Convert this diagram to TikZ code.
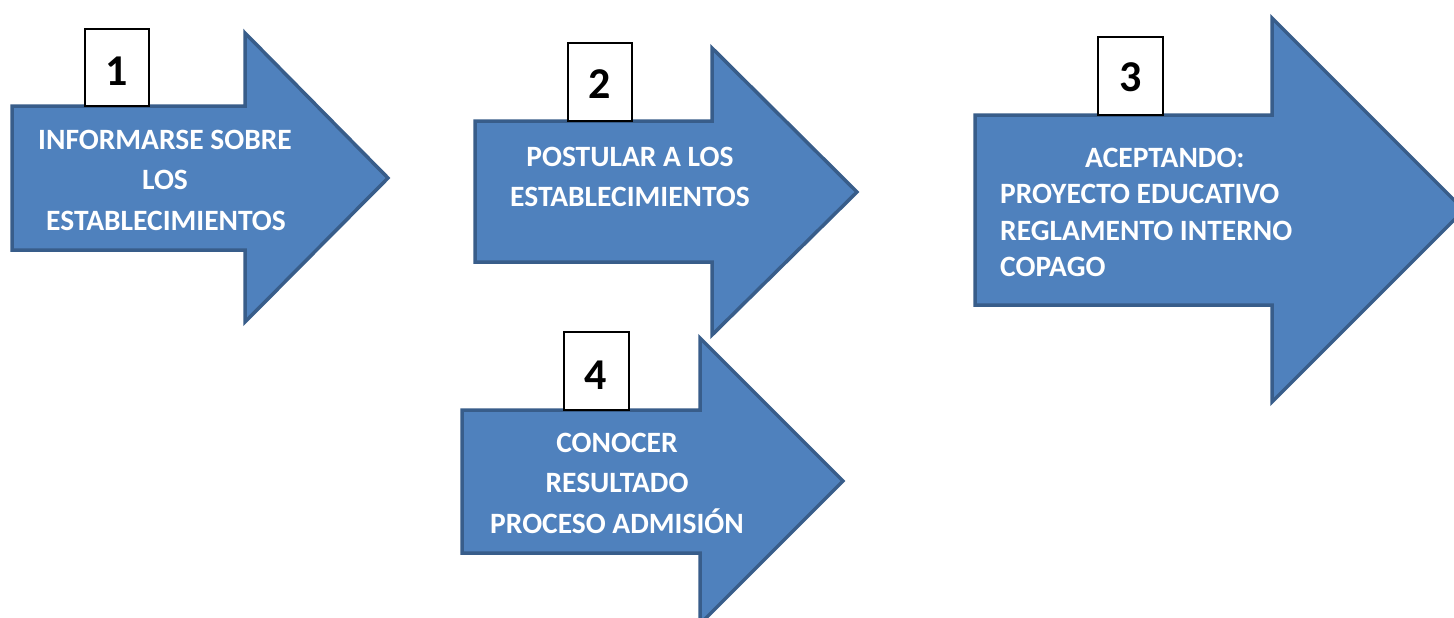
\documentclass[tikz,border=0pt]{standalone}
\usepackage{fontspec}
\setmainfont{Carlito}
\definecolor{arrowfill}{HTML}{4F81BD}
\definecolor{arrowline}{HTML}{385D8A}
\tikzset{
  bigarrow/.style={fill=arrowfill, draw=arrowline, line width=3.5pt, line join=miter},
  numbox/.style={draw=black, fill=white, line width=1.2pt},
  numtext/.style={font=\fontsize{44}{44}\selectfont\bfseries, text=black, inner sep=0pt, anchor=base},
  linetext/.style={font=\fontsize{29.5}{34}\selectfont\bfseries, text=white, inner sep=0pt, anchor=base},
  lefttext/.style={linetext, anchor=base west}
}
\begin{document}
\begin{tikzpicture}[x=1pt,y=-1pt]
\useasboundingbox (0,0) rectangle (1454,618);
\clip (0,0) rectangle (1454,618);
\fill[white] (0,0) rectangle (1454,618);

% Arrow 1
\draw[bigarrow] (12,106) -- (245,106) -- (245,33) -- (388,178) -- (245,322) -- (245,250) -- (12,250) -- cycle;
\draw[numbox] (85,29) rectangle (149,106);
\node[numtext] (n1) at (117,85) {1};
\node[linetext] (t1a) at (165,149) {INFORMARSE SOBRE};
\node[linetext] (t1b) at (165,189.5) {LOS};
\node[linetext] (t1c) at (166,230) {ESTABLECIMIENTOS};

% Arrow 2
\draw[bigarrow] (475,121) -- (712,121) -- (712,48) -- (857,192) -- (712,335) -- (712,262) -- (475,262) -- cycle;
\draw[numbox] (568,43) rectangle (632,121);
\node[numtext] (n2) at (600,99) {2};
\node[linetext] (t2a) at (630,166) {POSTULAR A LOS};
\node[linetext] (t2b) at (630,206) {ESTABLECIMIENTOS};

% Arrow 3
\draw[bigarrow] (975,115) -- (1272,115) -- (1272,18) -- (1464,210) -- (1272,402) -- (1272,305) -- (975,305) -- cycle;
\draw[numbox] (1098,37) rectangle (1163,115);
\node[numtext] (n3) at (1131,92) {3};
\node[lefttext] (t3a) at (1085,167) {ACEPTANDO:};
\node[lefttext] (t3b) at (1000,203) {PROYECTO EDUCATIVO};
\node[lefttext] (t3c) at (1000,240) {REGLAMENTO INTERNO};
\node[lefttext] (t3d) at (1000,276) {COPAGO};

% Arrow 4
\draw[bigarrow] (462,410) -- (700,410) -- (700,338) -- (843,481) -- (700,624) -- (700,553) -- (462,553) -- cycle;
\draw[numbox] (564,332) rectangle (629,410);
\node[numtext] (n4) at (596,389) {4};
\node[linetext] (t4a) at (617,452) {CONOCER};
\node[linetext] (t4b) at (617,492) {RESULTADO};
\node[linetext] (t4c) at (617,533) {PROCESO ADMISIÓN};
\end{tikzpicture}
\end{document}
